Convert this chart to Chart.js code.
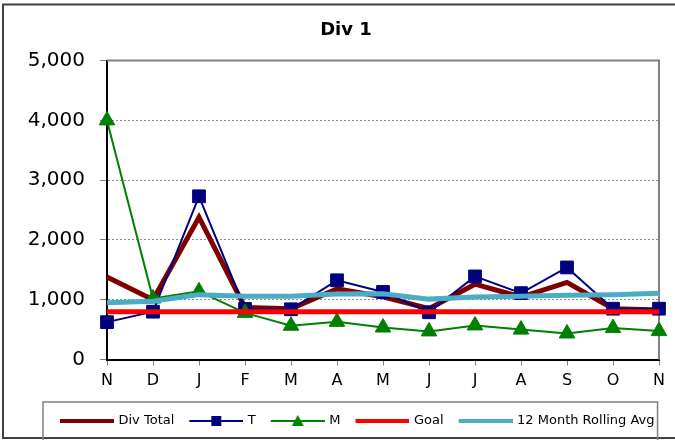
<!DOCTYPE html>
<html>
<head>
<meta charset="utf-8">
<script src="https://cdn.jsdelivr.net/npm/chart.js@4.4.1/dist/chart.umd.min.js"></script>
<style>
  html, body { margin: 0; padding: 0; background: #fff; }
  #chart { display: block; }
</style>
</head>
<body>
<canvas id="chart" width="675" height="440"></canvas>
<script>
// Chart data
const months = ["N", "D", "J", "F", "M", "A", "M", "J", "J", "A", "S", "O", "N"];
const divTotal = [1380, 1000, 2380, 870, 850, 1180, 1050, 850, 1260, 1045, 1290, 850, 830];
const tValues = [625, 800, 2730, 845, 840, 1325, 1130, 790, 1390, 1110, 1540, 850, 850];
const mValues = [4000, 1020, 1140, 780, 565, 630, 535, 470, 570, 500, 435, 525, 475];
const goal = [800, 800, 800, 800, 800, 800, 800, 800, 800, 800, 800, 800, 800];
const rollingAvg = [950, 975, 1085, 1060, 1060, 1095, 1100, 1010, 1045, 1060, 1075, 1085, 1110];
const seriesNames = ["Div Total", "T", "M", "Goal", "12 Month Rolling Avg"];

Chart.defaults.font.family = "'DejaVu Sans', sans-serif";
Chart.defaults.color = "#000";

// small line sample used as legend symbol
const legendLine = (color, width, marker) => {
  const c = document.createElement("canvas");
  c.width = 56;
  c.height = 14;
  const g = c.getContext("2d");
  g.strokeStyle = color;
  g.lineWidth = width;
  g.beginPath();
  g.moveTo(2, 7);
  g.lineTo(56, 7);
  g.stroke();
  g.fillStyle = color;
  if (marker === "rect") g.fillRect(24, 2, 10, 10);
  if (marker === "triangle") {
    g.beginPath();
    g.moveTo(29, 1);
    g.lineTo(35, 12);
    g.lineTo(23, 12);
    g.closePath();
    g.fill();
  }
  return c;
};

const legendImgs = [
  legendLine("#800000", 4),
  legendLine("#000080", 2, "rect"),
  legendLine("#008000", 2, "triangle"),
  legendLine("#ff0000", 4),
  legendLine("#4bacc6", 4),
];

const legendStartX = 60;

const framePlugin = {
  id: "frame",
  beforeDraw(chart) {
    const { ctx, width } = chart;
    ctx.save();
    ctx.fillStyle = "#fff";
    ctx.fillRect(0, 0, chart.width, chart.height);
    ctx.strokeStyle = "#404040";
    ctx.lineWidth = 2;
    ctx.strokeRect(3, 4.5, width + 10, 433.5);
    ctx.restore();
  },
  afterLayout(chart) {
    // line the legend up under the plot like the original
    const lg = chart.legend;
    const p = lg.options.labels.padding;
    const start = (lg.left + p + lg.right - lg.lineWidths[0]) / 2;
    const dx = legendStartX - start;
    lg.left += dx;
    lg.right += dx;
  },
  beforeDatasetsDraw(chart) {
    const { ctx, chartArea: a } = chart;
    ctx.save();
    ctx.strokeStyle = "#808080";
    ctx.lineWidth = 2;
    ctx.beginPath();
    ctx.moveTo(a.left, a.top);
    ctx.lineTo(a.right, a.top);
    ctx.lineTo(a.right, a.bottom);
    ctx.stroke();
    ctx.restore();
  },
  afterDraw(chart) {
    const { ctx } = chart;
    const hb = chart.legend.legendHitBoxes;
    if (!hb.length) return;
    const first = hb[0];
    const last = hb[hb.length - 1];
    ctx.save();
    ctx.strokeStyle = "#808080";
    ctx.lineWidth = 1.5;
    const x0 = first.left - 17;
    const x1 = last.left + last.width + 3;
    ctx.strokeRect(x0, first.top - 12.5, x1 - x0, 60);
    ctx.restore();
  },
};

const lineSet = (label, data, color, width, extra = {}) => ({
  label,
  data,
  borderColor: color,
  backgroundColor: color,
  borderWidth: width,
  pointRadius: 0,
  pointHoverRadius: 0,
  tension: 0,
  clip: false,
  ...extra,
});

new Chart(document.getElementById("chart"), {
  type: "line",
  data: {
    labels: months,
    datasets: [
      lineSet(seriesNames[0], divTotal, "#800000", 5, { order: 5 }),
      lineSet(seriesNames[1], tValues, "#000080", 2, {
        order: 4,
        pointStyle: "rect",
        pointRadius: 9,
        pointBorderWidth: 1,
      }),
      lineSet(seriesNames[2], mValues, "#008000", 2, {
        order: 3,
        pointStyle: "triangle",
        pointRadius: 9,
        pointBorderWidth: 1,
      }),
      lineSet(seriesNames[3], goal, "#ff0000", 5, { order: 2 }),
      lineSet(seriesNames[4], rollingAvg, "#4bacc6", 5, { order: 1 }),
    ],
  },
  options: {
    responsive: false,
    animation: false,
    devicePixelRatio: 1,
    layout: { padding: { left: 17, right: 0, top: 0, bottom: 2.5 } },
    scales: {
      x: {
        offset: false,
        grid: {
          drawOnChartArea: false,
          tickLength: 6,
          tickColor: "#808080",
        },
        border: { color: "#000", width: 2 },
        ticks: { font: { size: 16 }, color: "#000", padding: 6, autoSkip: false, maxRotation: 0 },
        afterFit: (scale) => {
          scale.height = 40;
          scale.paddingRight = 16;
        },
      },
      y: {
        min: 0,
        max: 5000,
        grid: {
          color: "#8c8c8c",
          lineWidth: 1,
          tickLength: 7,
          tickColor: "#808080",
          tickBorderDash: [1, 0],
        },
        border: { color: "#000", width: 2, dash: [2, 2] },
        ticks: {
          stepSize: 1000,
          font: { size: 20 },
          color: "#000",
          padding: 15,
          callback: (v) => v.toLocaleString("en-US"),
        },
        afterFit: (scale) => {
          scale.width = 90;
        },
      },
    },
    plugins: {
      title: {
        display: true,
        text: "Div 1",
        color: "#000",
        font: { size: 18, weight: "bold" },
        padding: { top: 20, bottom: 19 },
      },
      legend: {
        position: "bottom",
        labels: {
          usePointStyle: true,
          pointStyleWidth: 52,
          boxHeight: 13,
          padding: 15,
          color: "#000",
          font: { size: 13 },
          generateLabels: (chart) =>
            Chart.defaults.plugins.legend.labels
              .generateLabels(chart)
              .sort((a, b) => a.datasetIndex - b.datasetIndex)
              .map((item) => ({ ...item, pointStyle: legendImgs[item.datasetIndex] })),
        },
      },
      tooltip: { enabled: false },
    },
  },
  plugins: [framePlugin],
});
</script>
</body>
</html>
